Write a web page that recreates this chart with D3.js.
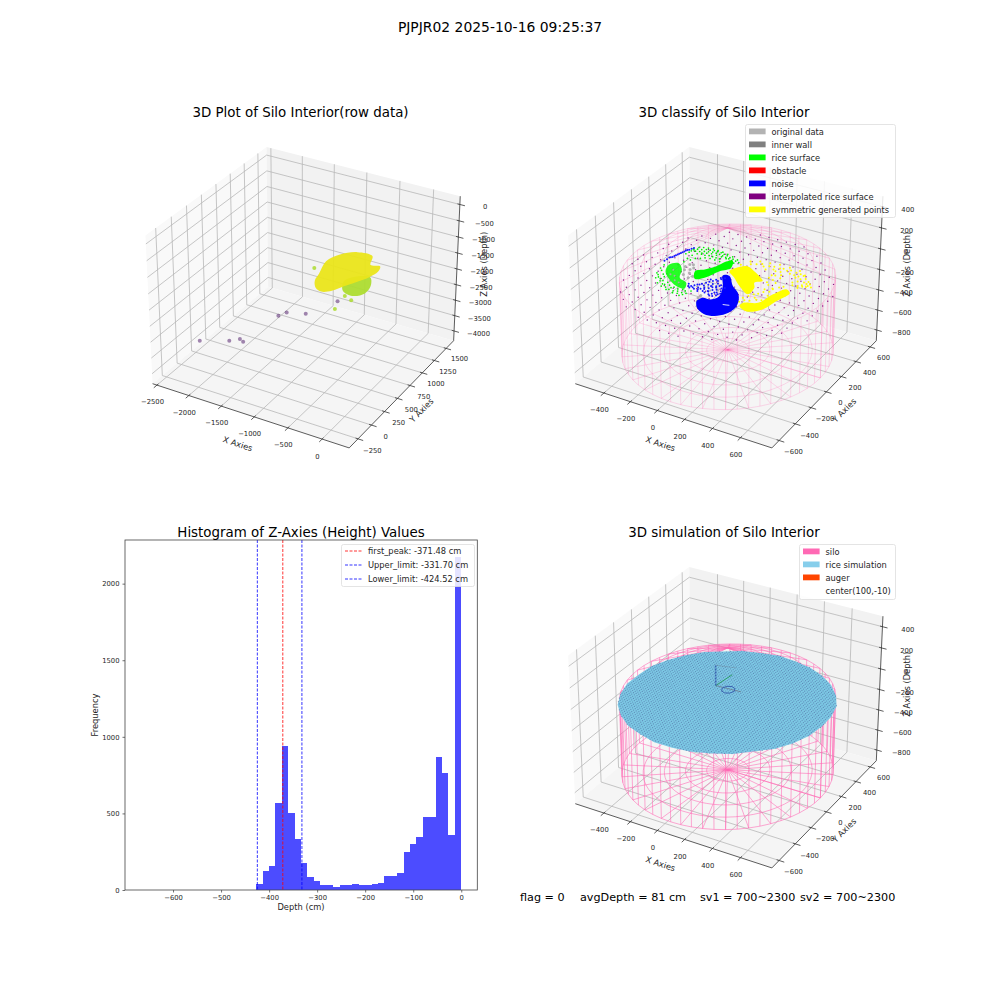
<!DOCTYPE html>
<html><head><meta charset="utf-8">
<script src="https://cdn.jsdelivr.net/npm/d3@7/dist/d3.min.js"></script>
<style>html,body{margin:0;background:#fff}svg{display:block}text{font-family:"DejaVu Sans",sans-serif;fill:#262626}</style>
</head><body><svg id="fig" width="1000" height="1000"></svg>
<script>
// ---------- data ----------
const histBinWidth = 13.34;
const histCounts = [39,124,157,569,941,503,333,176,85,59,33,33,20,33,33,39,33,33,39,46,92,92,111,248,300,346,477,477,870,765,360,2176];
const histTicksX = [-600,-500,-400,-300,-200,-100,0];
const histTicksY = [0,500,1000,1500,2000];
const limitNames = ["first_peak: -371.48 cm","Upper_limit: -331.70 cm","Lower_limit: -424.52 cm"];
const limitValues = [-371.48,-331.70,-424.52];
const limitColors = ["red","blue","blue"];

// raw data panel
const rawZ = 50;
const rawHull = [[-279,-132],[-356,85],[-291,252],[-132,366],[80,368],[163,222],[287,238],[326,146],[297,28],[210,-112],[140,-212],[64,-335],[-40,-393],[-141,-361],[-237,-258]];
const rawHullLow = [[75,-132],[305,31],[415,-102],[438,-235],[336,-326],[178,-289]];
const rawUpperX = [-399,259,375,305];
const rawUpperY = [-68,-357,-394,-586];
const rawUpperTone = [-420,-420,-420,-420];
const rawOutX = [-1078,-1285,-1526,-1577,-2146,-1809,-1711,-1637];
const rawOutY = [1215,859,791,698,-49,86,161,134];
const rawOutZ = [-3250,-3250,-3250,-3250,-3250,-3250,-3250,-3250];

// classified panel: x, y read at the working plane
const planeZ = -176;
const purpleZ = -140;
const blueHull = [[7,90],[47,104],[117,23],[177,-22],[217,-80],[241,-167],[222,-245],[171,-298],[107,-311],[43,-280],[4,-221],[17,-174],[70,-164],[98,-108],[63,-7]];
const blueScatter = [[-105,-103],[-106,-123],[-91,-87],[-69,-63],[-43,-28],[1,-43],[36,-42],[10,-98],[53,-92],[-17,-113],[46,-17],[-52,-113],[-26,-78],[-16,9],[11,24],[20,49],[41,-133],[80,-98],
 [-390,48],[-382,93],[-367,109],[-358,134],[-349,159],[-340,185],[-331,210],[-318,230],[-301,260],[-385,70],[-375,100],[-362,122],[-353,147],[-344,172],[-335,198],[-325,220],[-310,245],
 [-90,-110],[-80,-70],[-60,-95],[-60,-50],[-40,-100],[-40,-60],[-30,-10],[-20,-90],[-20,-40],[0,-120],[0,-70],[0,-20],[15,-100],[15,-50],[25,0],[30,-125],[30,-75],[30,-30],[45,-110],[50,-60],[50,-5],[60,-130],[65,-85],[70,-35],[75,-110],[80,-60],[85,-20],[90,-85],[-5,30],[-35,15],[10,60],[35,70],[-120,-110],[-130,-90],[-75,-120],[-45,-130]];
const blueStreak = [[158,-173],[178,-167],[197,-160]];
const greenHullA = [[-165,44],[-121,89],[-76,155],[-49,230],[-18,260],[12,185],[-32,120],[-78,13],[-125,-26]];
const greenHullB = [[-342,23],[-297,68],[-245,19],[-211,-62],[-149,-88],[-127,-147],[-184,-149],[-273,-98],[-324,-47]];
const greenScatter = [[-277,281],[-251,296],[-221,305],[-189,312],[-154,311],[-119,311],[-80,305],[-39,296],[4,281],[-313,180],[-304,205],[-290,242],[-270,185],[-251,215],[-229,236],[-202,251],[-172,260],[-137,261],[-101,261],[-65,258],[-278,140],[-279,99],[-253,135],[-234,165],[-207,180],[-185,201],[-154,210],[-120,211],[-84,210],
 [-340,-136],[-361,-88],[-369,-32],[-368,8],[-303,-176],[-264,-194],[-220,-209],[-168,-219],[-119,-223],[-93,-184],[-79,-148],[-255,-169],[-203,-179],[-150,-189],[-132,-158],
 [-300,250],[-300,225],[-275,260],[-275,235],[-250,270],[-250,245],[-225,285],[-225,260],[-225,225],[-200,290],[-200,270],[-200,225],[-175,300],[-175,280],[-175,235],[-150,300],[-150,280],[-150,235],[-125,300],[-125,280],[-125,235],[-100,295],[-100,275],[-100,235],[-75,290],[-75,270],[-50,280],[-50,265],[-25,275],[-25,255],[0,265],[0,240],[25,260],
 [-350,-50],[-345,-100],[-330,-120],[-320,-80],[-310,-130],[-300,-150],[-285,-140],[-270,-170],[-250,-140],[-235,-190],[-225,-160],[-205,-200],[-190,-165],[-175,-200],[-160,-170],[-140,-210],[-120,-190],[-105,-205],[-110,-165],[-300,-100]];
const grayScatter = [[-244,59],[-201,44],[-209,99],[-210,-22],[-166,-37],[-77,135],[-64,154],[8,-219],[35,-244],[-6,-187],[-4,-158],[34,-265],[-230,90],[-190,70],[-230,25],[-185,10],[-150,-10]];
const graySpecks = [[-10,-60],[20,-85],[40,-45],[-30,-70],[60,-60],[5,-35],[-70,-90],[-45,-40],[-280,-60],[-250,-60],[-290,-10],[-225,-100],[-190,-110]];
const yellowHullA = [[21,150],[38,200],[92,251],[154,226],[223,185],[250,160],[214,119],[240,74],[239,-7],[152,43],[81,104]];
const yellowHullB = [[256,-98],[335,-52],[372,68],[417,155],[455,129],[424,18],[388,-103],[316,-163],[255,-139]];
const yellowScatter = [[48,245],[84,306],[137,336],[199,351],[260,367],[330,367],[401,367],[445,331],[515,250],[540,245],[444,291],[409,291],[479,270],[462,220],[417,235],[207,276],[269,291],[267,210],[302,89],[346,114],[292,-17],[230,-53],[371,8],[212,-83],
 [100,280],[130,300],[160,320],[180,300],[210,320],[240,330],[250,300],[280,330],[300,340],[300,300],[330,330],[350,345],[360,310],[390,340],[390,310],[420,340],[420,310],[450,340],[470,310],[500,290],[500,265],[520,270],[480,240],[440,260],[430,210],[470,200],[490,225],[510,235],[320,270],[290,250],[330,240],[270,240],[300,200],[330,180],[280,160],[300,140],[340,120],[370,150],[390,170],[340,80],[310,60],[290,30],[270,10],[250,-20],[350,40],[410,90],[440,110],[280,-60],[310,-30],[340,-20],[250,-70],[230,-100],[260,-120]];

const siloCenter = [100,-10];
const siloRadius = 678;
const siloBottom = -780, siloRim = -60, siloApex = 390;
const surfaceZ = -100;
const surfaceEdge = [672,680,688,684,678,670,664,652,656,640,642,634,648,654,660,672,668,682,686,690,682,676,662,660,648,644,636,640,634,654,662,668];
const augerStem = [[-61,108,-100],[-61,108,95]];
const augerGreen = [[-61,108,-100],[-41,279,-100]];
const augerGrayA = [[-61,108,-100],[121,118,-100]];
const augerGrayB = [[-61,108,95],[71,142,95]];
const augerLoop = [[80,102],[66,135],[36,148],[6,135],[-8,102],[6,70],[36,56],[66,70],[80,102]];

const legend2 = [["original data","#b3b3b3"],["inner wall","#808080"],["rice surface","#00ff00"],["obstacle","#ff0000"],["noise","#0000ff"],["interpolated rice surface","#800080"],["symmetric generated points","#ffff00"]];
const legend4 = [["silo","#ff69b4"],["rice simulation","#87ceeb"],["auger","#ff4500"],["center(100,-10)","none"]];

const p1 = {box:[125,120,352.3,350], xlim:[-2510,330], ylim:[-370,1620], zlim:[-4230,160], xt:[-2500,-2000,-1500,-1000,-500,0], yt:[-250,0,250,500,750,1000,1250,1500], zt:[-4000,-3500,-3000,-2500,-2000,-1500,-1000,-500,0]};
const p2 = {box:[547.7,120,352.3,350], xlim:[-590,790], ylim:[-660,660], zlim:[-880,470], xt:[-400,-200,0,200,400,600], yt:[-600,-400,-200,0,200,400,600], zt:[-800,-600,-400,-200,0,200,400]};
const p4 = {box:[547.7,540,352.3,350], xlim:[-590,790], ylim:[-660,660], zlim:[-880,470], xt:[-400,-200,0,200,400,600], yt:[-600,-400,-200,0,200,400,600], zt:[-800,-600,-400,-200,0,200,400]};

// ---------- 3D projection (elev 30, azim -60, dist 10) ----------
function makeProjector(cfg){
  const aspect=[8/7,8/7,6/7], dist=10, el=30*Math.PI/180, az=-60*Math.PI/180;
  const sx=d3.scaleLinear().domain(cfg.xlim).range([0,aspect[0]]);
  const sy=d3.scaleLinear().domain(cfg.ylim).range([0,aspect[1]]);
  const sz=d3.scaleLinear().domain(cfg.zlim).range([0,aspect[2]]);
  const n=[Math.cos(el)*Math.cos(az),Math.cos(el)*Math.sin(az),Math.sin(el)];
  const un=Math.hypot(n[1],n[0]);
  const u=[-n[1]/un,n[0]/un,0];
  const v=[n[1]*u[2]-n[2]*u[1],n[2]*u[0]-n[0]*u[2],n[0]*u[1]-n[1]*u[0]];
  const side=Math.min(cfg.box[2],cfg.box[3]);
  const cx=cfg.box[0]+cfg.box[2]/2, cy=cfg.box[1]+cfg.box[3]/2;
  const px=d3.scaleLinear().domain([-0.095,0.09]).range([cx-side/2,cx+side/2]);
  const py=d3.scaleLinear().domain([-0.095,0.09]).range([cy+side/2,cy-side/2]);
  return (x,y,z)=>{
    const p=[sx(x)-aspect[0]/2,sy(y)-aspect[1]/2,sz(z)-aspect[2]/2];
    const w=dist-(p[0]*n[0]+p[1]*n[1]+p[2]*n[2]);
    return [px((p[0]*u[0]+p[1]*u[1])/w),py((p[0]*v[0]+p[1]*v[1]+p[2]*v[2])/w)];
  };
}
const svg=d3.select("#fig");
const line=d3.line();
// readings of the classified clouds were taken on a slightly sheared plane
const calib=d=>[100+1.086*(d[0]-100)-.083*(d[1]+10),-10-.067*(d[0]-100)+1.127*(d[1]+10)];
function poly3(g,P,pts,attrs){
  const el=g.append("path").attr("d",line(pts.map(p=>P(p[0],p[1],p[2]))));
  Object.entries(attrs).forEach(([k,v])=>el.attr(k,v));
  return el;
}
function axes3D(g,cfg,P){
  const m=(l)=>{const d=(l[1]-l[0])/48;return [l[0]-d,l[1]+d];};
  const [x0,x1]=m(cfg.xlim),[y0,y1]=m(cfg.ylim),[z0,z1]=m(cfg.zlim);
  poly3(g,P,[[x0,y0,z0],[x0,y1,z0],[x0,y1,z1],[x0,y0,z1]],{fill:"#f9f9f9"});
  poly3(g,P,[[x0,y1,z0],[x1,y1,z0],[x1,y1,z1],[x0,y1,z1]],{fill:"#f2f2f2"});
  poly3(g,P,[[x0,y0,z0],[x1,y0,z0],[x1,y1,z0],[x0,y1,z0]],{fill:"#f5f5f5"});
  const grid={fill:"none",stroke:"#b8b8b8","stroke-width":.8};
  cfg.xt.forEach(t=>poly3(g,P,[[t,y0,z0],[t,y1,z0],[t,y1,z1]],grid));
  cfg.yt.forEach(t=>poly3(g,P,[[x1,t,z0],[x0,t,z0],[x0,t,z1]],grid));
  cfg.zt.forEach(t=>poly3(g,P,[[x0,y0,t],[x0,y1,t],[x1,y1,t]],grid));
  const ax={fill:"none",stroke:"#333","stroke-width":.8};
  poly3(g,P,[[x0,y0,z0],[x1,y0,z0]],ax);
  poly3(g,P,[[x1,y0,z0],[x1,y1,z0]],ax);
  poly3(g,P,[[x1,y1,z0],[x1,y1,z1]],ax);
  const dy=(y1-y0),dx=(x1-x0),dz=(z1-z0);
  const tick=(a,b)=>poly3(g,P,[a,b],ax);
  const lab=(p,s,anchor)=>{const q=P(p[0],p[1],p[2]);g.append("text").attr("x",q[0]).attr("y",q[1]).attr("text-anchor",anchor||"middle").attr("dominant-baseline","central").attr("font-size",6.8).text(s);};
  const fmt=t=>String(t).replace("-","\u2212");
  cfg.xt.forEach(t=>{tick([t,y0+.012*dy,z0],[t,y0-.025*dy,z0]);lab([t,y0-.04*dy,z0-.09*dz],fmt(t));});
  cfg.yt.forEach(t=>{tick([x1-.012*dx,t,z0],[x1+.025*dx,t,z0]);lab([x1+.07*dx,t,z0-.05*dz],fmt(t));});
  cfg.zt.forEach(t=>{tick([x1-.012*dx,y1,t],[x1+.025*dx,y1,t]);lab([x1+.11*dx,y1+.03*dy,t],fmt(t));});
  const rlab=(p,s,rot)=>{const q=P(p[0],p[1],p[2]);g.append("text").attr("transform",`translate(${q[0]},${q[1]}) rotate(${rot})`).attr("text-anchor","middle").attr("dominant-baseline","central").attr("font-size",8.3).text(s);};
  rlab([(x0+x1)/2,y0-.09*dy,z0-.13*dz],"X Axies",18);
  rlab([x1+.09*dx,(y0+y1)/2,z0-.09*dz],"Y Axies",-45);
  rlab([x1+.12*dx,y1+.03*dy,(z0+z1)/2+.065*dz],"Z Axies (Depth)",-90);
}
function legendBox(g,x,y,w,h){
  g.append("rect").attr("x",x+.5).attr("y",y+.5).attr("width",w).attr("height",h).attr("rx",2).attr("fill","#fff").attr("fill-opacity",.85).attr("stroke","#ddd").attr("stroke-width",.8);
}
function patchLegend(g,rows,x,y,w,h,step){
  legendBox(g,x,y,w,h);
  rows.forEach((r,i)=>{
    const yy=y+7.5+i*step;
    if(r[1]!=="none")g.append("rect").attr("x",x+4).attr("y",yy-3).attr("width",16.6).attr("height",5.8).attr("fill",r[1]);
    g.append("text").attr("x",x+26.5).attr("y",yy).attr("dominant-baseline","central").attr("font-size",8.3).text(r[0]);
  });
}
function siloMesh(g,P,opacity){
  const [cx,cy]=siloCenter, deg=d3.range(0,360.01,6), rad=d=>d*Math.PI/180;
  const st={fill:"none",stroke:"#ff69b4","stroke-width":.8,"stroke-opacity":opacity};
  const at=(d,f)=>[cx+f*siloRadius*Math.cos(rad(d)),cy+f*siloRadius*Math.sin(rad(d))];
  deg.forEach(d=>{
    const c=at(d,1);
    poly3(g,P,[[c[0],c[1],siloBottom],[c[0],c[1],siloRim]],st);
    if(d%12===0){
      poly3(g,P,[[cx,cy,siloBottom],[c[0],c[1],siloBottom]],st);
      if(d>=20&&d<=220)poly3(g,P,[[cx,cy,siloApex],[c[0],c[1],siloRim]],st);
    }
  });
  [0.2,0.4,0.6,0.8,1].forEach(f=>poly3(g,P,deg.map(d=>[...at(d,f),siloBottom]),st));
  poly3(g,P,deg.map(d=>[...at(d,1),siloRim]),st);
  const back=deg.filter(d=>d>=20&&d<=220);
  [0.2,0.4,0.6,0.8].forEach(f=>poly3(g,P,back.map(d=>[...at(d,f),siloApex+f*(siloRim-siloApex)]),st));
}
function dots(g,P,pts,z,r,c,o){
  g.selectAll(null).data(pts).join("circle").attr("cx",d=>P(d[0],d[1],z)[0]).attr("cy",d=>P(d[0],d[1],z)[1]).attr("r",r).attr("fill",c).attr("fill-opacity",o===undefined?1:o);
}
function hull(g,P,pts,z,c,o){
  const cl=d3.line().curve(d3.curveCatmullRomClosed.alpha(.5));
  g.append("path").attr("d",cl(pts.map(d=>P(d[0],d[1],z)))).attr("fill",c).attr("fill-opacity",o===undefined?1:o);
}
const title=(x,y,s,fs)=>svg.append("text").attr("x",x).attr("y",y).attr("text-anchor","middle").attr("font-size",fs).style("fill","#000").text(s);

title(500,32,"PJPJR02 2025-10-16 09:25:37",13.9);
// ---------- panel 1 ----------
{
  const P=makeProjector(p1), g=svg.append("g");
  axes3D(g,p1,P);
  const c=d3.scaleSequential(d3.interpolateViridis).domain([-3400,0]);
  hull(g,P,rawHullLow,rawZ,c(-420),.95);
  hull(g,P,rawHull,rawZ,c(-110),.95);
  g.selectAll(null).data(d3.zip(rawOutX,rawOutY,rawOutZ)).join("circle").attr("cx",d=>P(...d)[0]).attr("cy",d=>P(...d)[1]).attr("r",2).attr("fill",d=>c(d[2])).attr("fill-opacity",.5);
  g.selectAll(null).data(d3.zip(rawUpperX,rawUpperY,rawUpperTone)).join("circle").attr("cx",d=>P(d[0],d[1],rawZ)[0]).attr("cy",d=>P(d[0],d[1],rawZ)[1]).attr("r",2).attr("fill",d=>c(d[2])).attr("fill-opacity",.85);
  title(300.5,117,"3D Plot of Silo Interior(row data)",13.4);
}
// ---------- panel 2 ----------
{
  const P=makeProjector(p2), g=svg.append("g");
  axes3D(g,p2,P);
  siloMesh(g,P,.3);
  const gx=d3.range(-570,780,66), gy=d3.range(-680,670,66);
  const gridPts=gx.flatMap(x=>gy.map(y=>[x,y])).filter(d=>Math.hypot(d[0]-siloCenter[0],d[1]-siloCenter[1])<=siloRadius);
  dots(g,P,gridPts,purpleZ,.7,"#8a1a8a");
  dots(g,P,grayScatter.map(calib),planeZ,1.5,"#b0b0b0");
  hull(g,P,greenHullB.map(calib),planeZ,"#00ff00",.85);
  dots(g,P,greenScatter.map(calib),planeZ,.85,"#00f000");
  hull(g,P,greenHullA.map(calib),planeZ,"#00ff00");
  hull(g,P,yellowHullA.map(calib),planeZ,"#ffff00");
  hull(g,P,yellowHullB.map(calib),planeZ,"#ffff00");
  dots(g,P,yellowScatter.map(calib),planeZ,1,"#ffff00");
  dots(g,P,graySpecks.map(calib),planeZ,1,"#aaa");
  hull(g,P,blueHull.map(calib),planeZ,"#0000ff");
  dots(g,P,blueScatter.map(calib),planeZ,1,"#1818ff");
  g.append("path").attr("d",line(blueStreak.map(calib).map(d=>P(d[0],d[1],planeZ)))).attr("fill","none").attr("stroke","#fff").attr("stroke-width",1).attr("stroke-opacity",.85);
  title(724,117,"3D classify of Silo Interior",13.4);
  patchLegend(g,legend2,745,124,150,93,13);
}
// ---------- histogram ----------
{
  const g=svg.append("g");
  const x=d3.scaleLinear().domain([-700,33.4]).range([125,477.3]);
  const y=d3.scaleLinear().domain([0,2285]).range([890,540]);
  const n=histCounts.length;
  g.selectAll(null).data(histCounts).join("rect").attr("shape-rendering","crispEdges")
    .attr("x",(d,i)=>x(-(n-i)*histBinWidth)).attr("width",x(histBinWidth)-x(0))
    .attr("y",d=>y(d)).attr("height",d=>y(0)-y(d)).attr("fill","#0000ff").attr("fill-opacity",.7);
  limitValues.forEach((v,i)=>g.append("line").attr("x1",x(v)).attr("x2",x(v)).attr("y1",540).attr("y2",890).attr("stroke",limitColors[i]).attr("stroke-width",.8).attr("stroke-dasharray","3,1.5"));
  const gx=g.append("g").attr("transform","translate(0,890)").call(d3.axisBottom(x).tickValues(histTicksX).tickSize(2.5).tickFormat(d=>String(d).replace("-","\u2212")));
  const gy=g.append("g").attr("transform","translate(125,0)").call(d3.axisLeft(y).tickValues(histTicksY).tickSize(2.5).tickFormat(d=>String(d)));
  [gx,gy].forEach(a=>{a.selectAll("text").attr("font-size",6.8).attr("font-family",null).style("fill","#262626");a.select(".domain").remove();a.selectAll("line").attr("stroke","#333").attr("stroke-width",.7);});
  g.append("rect").attr("x",125).attr("y",540).attr("width",352.3).attr("height",350).attr("fill","none").attr("stroke","#444").attr("stroke-width",.8);
  g.append("text").attr("x",301).attr("y",910).attr("text-anchor","middle").attr("font-size",8.3).text("Depth (cm)");
  g.append("text").attr("transform","translate(95,715) rotate(-90)").attr("text-anchor","middle").attr("dominant-baseline","central").attr("font-size",8.3).text("Frequency");
  legendBox(g,341,544,133,42);
  limitNames.forEach((s,i)=>{
    const yy=551+i*14;
    g.append("line").attr("x1",345).attr("x2",362).attr("y1",yy).attr("y2",yy).attr("stroke",limitColors[i]).attr("stroke-width",.8).attr("stroke-dasharray","3,1.5");
    g.append("text").attr("x",368).attr("y",yy).attr("dominant-baseline","central").attr("font-size",8.3).text(s);
  });
  title(301,537,"Histogram of Z-Axies (Height) Values",13.4);
}
// ---------- panel 4 ----------
{
  const P=makeProjector(p4), g=svg.append("g");
  axes3D(g,p4,P);
  siloMesh(g,P,.72);
  const edge=surfaceEdge.map((r,i)=>{const t=i/surfaceEdge.length*2*Math.PI;return [siloCenter[0]+r*Math.cos(t),siloCenter[1]+r*Math.sin(t)];});
  g.append("path").attr("d",line(edge.map(d=>P(d[0],d[1],surfaceZ)))+"Z").attr("fill","#7cc8e4");
  const gx=d3.range(-590,790,20), gy=d3.range(-700,690,20);
  const pts=gx.flatMap(x=>gy.map(y=>[x,y])).filter(d=>d3.polygonContains(edge,d));
  dots(g,P,pts,surfaceZ,.6,"#4a5f9a",.6);
  poly3(g,P,augerGrayA,{stroke:"#667",fill:"none","stroke-width":1,"stroke-opacity":.6});
  poly3(g,P,augerGrayB,{stroke:"#667",fill:"none","stroke-width":.8,"stroke-opacity":.35});
  poly3(g,P,augerGreen,{stroke:"#2e9e6a",fill:"none","stroke-width":1});
  poly3(g,P,augerStem,{stroke:"#3a62b0",fill:"none","stroke-width":1.6,"stroke-dasharray":"2,1"});
  poly3(g,P,augerLoop.map(d=>[d[0],d[1],surfaceZ]),{stroke:"#3a62b0",fill:"none","stroke-width":1});
  title(724,537,"3D simulation of Silo Interior",13.4);
  patchLegend(g,legend4,799,544,96,55,13);
}
[["flag = 0",520],["avgDepth = 81 cm",580],["sv1 = 700~2300",700],["sv2 = 700~2300",800]].forEach(d=>
  svg.append("text").attr("x",d[1]).attr("y",901).attr("font-size",11.2).style("fill","#000").text(d[0]));
</script></body></html>
